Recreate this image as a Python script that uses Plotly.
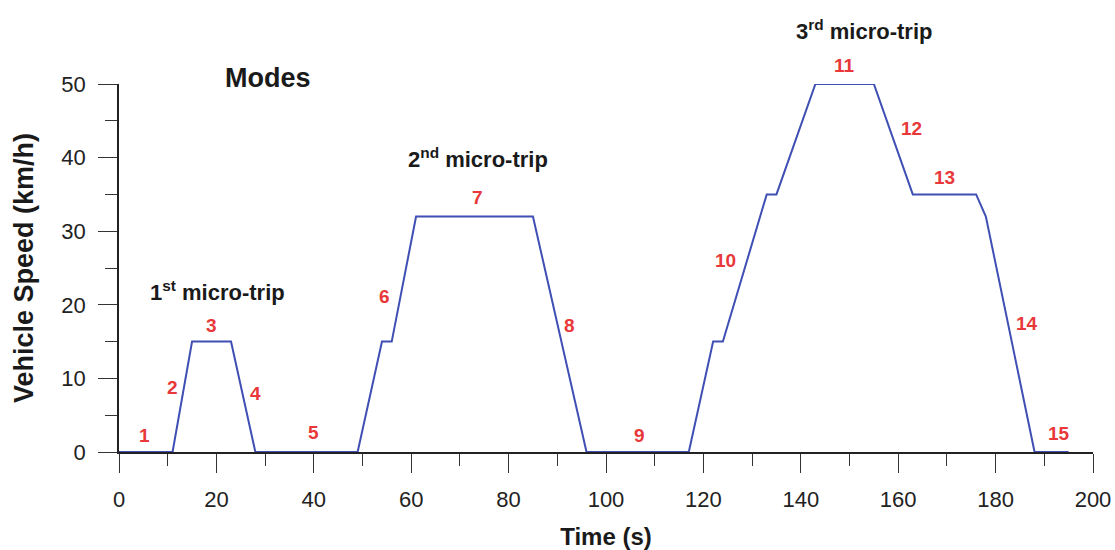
import plotly.graph_objects as go

# ECE-15 urban driving cycle: breakpoints of the speed trace
time_s = [0, 11, 15, 23, 28, 49, 54, 56, 61, 85, 96, 117, 122, 124, 133, 135, 143, 155, 163, 176, 178, 188, 195]
speed_kmh = [0, 0, 15, 15, 0, 0, 15, 15, 32, 32, 0, 0, 15, 15, 35, 35, 50, 50, 35, 35, 32, 0, 0]

# mode numbers and where they are written (time, speed)
mode_labels = [str(i) for i in range(1, 16)]
mode_x = [5.3, 10.9, 18.9, 28.0, 39.9, 54.5, 73.6, 92.5, 106.9, 124.6, 149.0, 162.8, 169.6, 186.4, 193.0]
mode_y = [2.3, 8.7, 17.2, 8.0, 2.6, 21.1, 34.6, 17.2, 2.2, 26.0, 52.5, 44.0, 37.3, 17.4, 2.5]

# micro-trip headings
trip_labels = ["1<sup>st</sup> micro-trip", "2<sup>nd</sup> micro-trip", "3<sup>rd</sup> micro-trip"]
trip_x = [20.3, 73.8, 152.9]
trip_y = [21.9, 39.9, 57.4]

X_RANGE = [0, 200]
Y_RANGE = [0, 50]

FONT = "Liberation Sans, Arial, sans-serif"
RED = "#E8383A"
INK = "#1a1a1a"


def y_paper(v):
    # place text by speed value, allowing positions above the axis top
    return (v - Y_RANGE[0]) / (Y_RANGE[1] - Y_RANGE[0])


def label(text, x, y, size, color):
    return dict(x=x, y=y_paper(y), xref="x", yref="paper", text=f"<b>{text}</b>",
                xanchor="center", yanchor="middle", showarrow=False,
                font=dict(family=FONT, size=size, color=color))


fig = go.Figure()
fig.add_trace(go.Scatter(
    x=time_s, y=speed_kmh, mode="lines",
    line=dict(color="#3F4FB3", width=2),
    cliponaxis=False, showlegend=False, hoverinfo="x+y",
))

annotations = [label(t, x, y, 19, RED) for t, x, y in zip(mode_labels, mode_x, mode_y)]
annotations += [label(t, x, y, 22, INK) for t, x, y in zip(trip_labels, trip_x, trip_y)]
annotations.append(label("Modes", 30.6, 50.8, 27, INK))

axis_common = dict(
    showline=True, linecolor="#222222", linewidth=1.5,
    ticks="outside", ticklen=19, tickwidth=1.4, tickcolor="#333333",
    showgrid=False, zeroline=False, ticklabelstandoff=8, automargin=False,
    tickfont=dict(family=FONT, size=22, color="#222222"),
)
minor_common = dict(ticklen=12, tickwidth=1.4, tickcolor="#333333", ticks="outside", showgrid=False)

fig.update_layout(
    width=1115, height=550,
    margin=dict(l=119, r=22, t=84, b=98),
    paper_bgcolor="white", plot_bgcolor="white",
    annotations=annotations,
    xaxis=dict(range=X_RANGE, dtick=20, tick0=0, minor=dict(dtick=10, **minor_common),
               title=dict(text="<b>Time (s)</b>", font=dict(family=FONT, size=24, color=INK), standoff=22),
               **axis_common),
    yaxis=dict(range=Y_RANGE, dtick=10, tick0=0, minor=dict(dtick=5, **minor_common),
               title=dict(text="<b>Vehicle Speed (km/h)</b>", font=dict(family=FONT, size=27, color=INK), standoff=20),
               **axis_common),
)

fig.write_html("out.html")
